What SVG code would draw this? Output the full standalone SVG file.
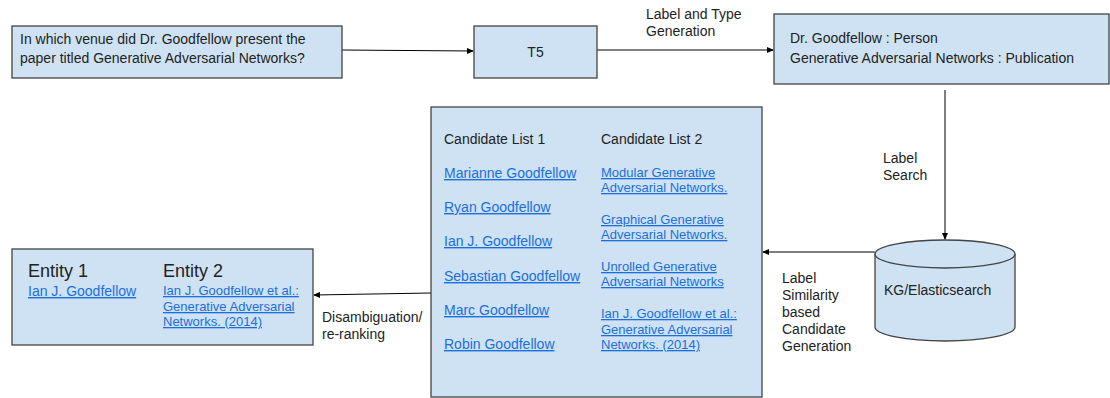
<svg xmlns="http://www.w3.org/2000/svg" width="1110" height="398" viewBox="0 0 1110 398">
<style>
.box{fill:#cfe2f3;stroke:#434343;stroke-width:1.3}
.t{font-family:"Liberation Sans",Arial,sans-serif;font-size:14px;fill:#222}
.s{font-size:13px}
.lk{fill:#1a6fdf;text-decoration:underline}
.ln{stroke:#000;stroke-width:1;fill:none;marker-end:url(#ah)}
</style>
<defs>
<marker id="ah" markerUnits="userSpaceOnUse" markerWidth="7" markerHeight="6" refX="6" refY="3" orient="auto">
<path d="M0,0 L7,3 L0,6 z" fill="#000"/>
</marker>
</defs>
<rect width="1110" height="398" fill="#fff"/>
<g id="connectors">
<line class="ln" x1="342" y1="50" x2="473" y2="51"/>
<line class="ln" x1="597" y1="50" x2="773" y2="50"/>
<line class="ln" x1="945" y1="90" x2="945" y2="239"/>
<line class="ln" x1="875" y1="252" x2="763" y2="252"/>
<line class="ln" x1="431" y1="293" x2="314" y2="295"/>
<text class="t" x="646" y="19">Label and Type</text>
<text class="t" x="646" y="36">Generation</text>
<text class="t" x="883" y="163">Label</text>
<text class="t" x="883" y="180">Search</text>
<text class="t" x="782" y="283">Label</text>
<text class="t" x="782" y="300">Similarity</text>
<text class="t" x="782" y="317">based</text>
<text class="t" x="782" y="334">Candidate</text>
<text class="t" x="782" y="351">Generation</text>
<text class="t" x="322" y="322">Disambiguation/</text>
<text class="t" x="322" y="339">re-ranking</text>
</g>
<g id="question">
<rect class="box" x="12" y="26" width="330" height="52"/>
<text class="t" x="20" y="44">In which venue did Dr. Goodfellow present the</text>
<text class="t" x="20" y="63">paper titled Generative Adversarial Networks?</text>
</g>
<g id="t5">
<rect class="box" x="474" y="26" width="123" height="52"/>
<text class="t" x="535.5" y="57" text-anchor="middle">T5</text>
</g>
<g id="labels">
<rect class="box" x="774" y="14" width="335" height="70"/>
<text class="t" x="790" y="43">Dr. Goodfellow : Person</text>
<text class="t" x="790" y="63">Generative Adversarial Networks : Publication</text>
</g>
<g id="kg">
<path class="box" d="M875,254 A70,14 0 0 1 1015,254 L1015,327 A70,14 0 0 1 875,327 Z"/>
<path d="M875,254 A70,14 0 0 0 1015,254" fill="none" stroke="#434343" stroke-width="1.3"/>
<text class="t" x="884" y="295">KG/Elasticsearch</text>
</g>
<g id="candidates">
<rect class="box" x="431" y="107" width="331" height="290"/>
<text class="t" x="444" y="144">Candidate List 1</text>
<text class="t" x="601" y="144">Candidate List 2</text>
<text class="t lk" x="444" y="178">Marianne Goodfellow</text>
<text class="t lk" x="444" y="212">Ryan Goodfellow</text>
<text class="t lk" x="444" y="246">Ian J. Goodfellow</text>
<text class="t lk" x="444" y="281">Sebastian Goodfellow</text>
<text class="t lk" x="444" y="315">Marc Goodfellow</text>
<text class="t lk" x="444" y="349">Robin Goodfellow</text>
<text class="t s lk" x="601" y="177">Modular Generative</text>
<text class="t s lk" x="601" y="192">Adversarial Networks.</text>
<text class="t s lk" x="601" y="224">Graphical Generative</text>
<text class="t s lk" x="601" y="239">Adversarial Networks.</text>
<text class="t s lk" x="601" y="271">Unrolled Generative</text>
<text class="t s lk" x="601" y="286">Adversarial Networks</text>
<text class="t s lk" x="601" y="318">Ian J. Goodfellow et al.:</text>
<text class="t s lk" x="601" y="334">Generative Adversarial</text>
<text class="t s lk" x="601" y="349">Networks. (2014)</text>
</g>
<g id="entities">
<rect class="box" x="12" y="249" width="301" height="96"/>
<text class="t" x="28" y="277" style="font-size:18px">Entity 1</text>
<text class="t" x="163" y="277" style="font-size:18px">Entity 2</text>
<text class="t lk" x="28" y="296">Ian J. Goodfellow</text>
<text class="t s lk" x="163" y="295">Ian J. Goodfellow et al.:</text>
<text class="t s lk" x="163" y="311">Generative Adversarial</text>
<text class="t s lk" x="163" y="326">Networks. (2014)</text>
</g>
</svg>
